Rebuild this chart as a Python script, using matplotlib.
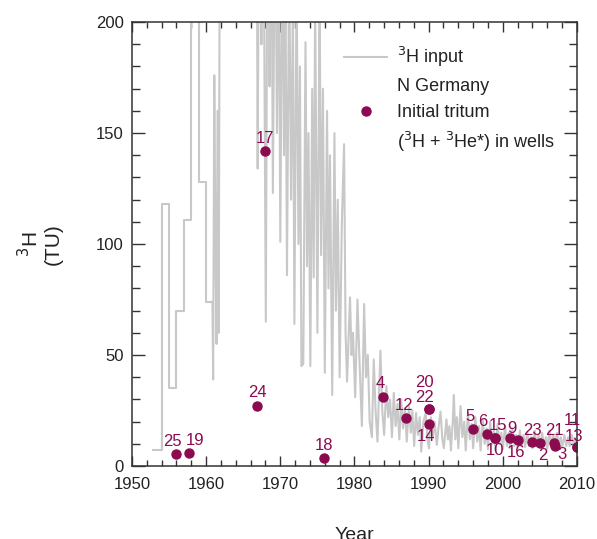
import numpy as np
import matplotlib
matplotlib.use('Agg')
import matplotlib.pyplot as plt
from matplotlib.lines import Line2D

plt.rcParams['font.family'] = ['Liberation Sans', 'DejaVu Sans']

# 3H input N Germany, annual steps before 1961
step_year = [1952.9, 1954, 1955, 1956, 1957, 1958, 1959, 1960, 1960.85]
step_tu = [7, 118, 35, 70, 111, 250, 128, 74, 74]

# 3H input N Germany, seasonal values after 1961
input_year = [1960.85, 1960.95, 1961.1, 1961.25, 1961.4, 1961.55, 1961.7, 1961.9,
              1962.3, 1962.7, 1963.0, 1963.4, 1963.8, 1964.1, 1964.5, 1964.9,
              1965.2, 1965.5, 1965.9, 1966.2, 1966.5, 1966.8, 1966.95,
              1967.2, 1967.45, 1967.7, 1968.05, 1968.3, 1968.55, 1968.8,
              1969.0, 1969.3, 1969.55, 1969.8, 1970.0, 1970.3, 1970.5, 1970.7,
              1970.9, 1971.2, 1971.45, 1971.7, 1971.9, 1972.2, 1972.45, 1972.65,
              1972.85, 1973.1, 1973.4, 1973.6, 1973.8, 1974.05, 1974.3, 1974.5,
              1974.7, 1975.0, 1975.3, 1975.5, 1975.75, 1976.0, 1976.3, 1976.5,
              1976.7, 1977.0, 1977.3, 1977.5, 1977.75, 1978.0, 1978.3, 1978.6,
              1978.8, 1979.0, 1979.4, 1979.6, 1979.8,
              1980.1, 1980.4, 1980.7, 1981.0, 1981.3, 1981.55, 1981.8, 1982.05,
              1982.35, 1982.6, 1982.85, 1983.1, 1983.5, 1983.75,
              1984.0, 1984.3, 1984.55, 1984.8, 1985.05, 1985.3, 1985.55, 1985.8,
              1986.05, 1986.3, 1986.55, 1986.8, 1987.05, 1987.35, 1987.6, 1987.8,
              1988.05, 1988.3, 1988.55, 1988.8, 1989.0, 1989.3, 1989.6, 1989.85,
              1990.05, 1990.3, 1990.55, 1990.8, 1991.1, 1991.35, 1991.6, 1991.85,
              1992.05, 1992.4, 1992.6, 1992.8, 1993.0, 1993.25, 1993.4, 1993.6, 1993.8,
              1994.0, 1994.3, 1994.55, 1994.8, 1995.0, 1995.3, 1995.55, 1995.8,
              1996.0, 1996.3, 1996.55, 1996.8, 1997.0, 1997.3, 1997.55, 1997.8,
              1998.0, 1998.3, 1998.55, 1998.8, 1999.0, 1999.3, 1999.55, 1999.8,
              2000.0, 2000.3, 2000.55, 2000.8, 2001.0, 2001.3, 2001.55, 2001.8,
              2002.0, 2002.3, 2002.55, 2002.8, 2003.0, 2003.3, 2003.55, 2003.8,
              2004.0, 2004.3, 2004.55, 2004.8, 2005.0, 2005.3, 2005.55, 2005.8,
              2006.0, 2006.3, 2006.55, 2006.8, 2007.0, 2007.3, 2007.55, 2007.8,
              2008.0, 2008.3, 2008.55, 2008.8, 2009.0, 2009.3, 2009.55, 2009.8,
              2010.0]
input_tu = [74, 39, 176, 100, 55, 160, 60, 330,
            900, 600, 400, 3000, 900, 500, 1200, 400,
            350, 600, 300, 260, 450, 280, 134,
            320, 190, 280, 65, 290, 171, 260,
            123, 270, 150, 240, 101, 250, 140, 220,
            86, 230, 120, 210, 64, 220, 100, 180,
            45, 46, 191, 90, 150, 45, 170, 85,
            210, 60, 215, 95, 170, 42, 160, 80,
            140, 32, 150, 70, 120, 40, 110, 145,
            60, 38, 76, 50, 60,
            31, 75, 45, 18, 73, 40, 50, 20,
            13, 48, 25, 11, 52, 25,
            14, 36, 22, 30, 13, 33, 18, 28,
            12, 30, 17, 26, 11, 27, 15, 25,
            9, 24, 14, 22, 6.5, 20, 24, 12,
            8, 22, 13, 20, 9.5, 18, 24.5, 12,
            8, 21, 12, 18, 7, 20, 32, 12, 22,
            8, 27, 13, 20, 7, 24, 12, 19,
            8, 22, 11, 18, 7, 21, 10, 17,
            7.5, 20, 10, 16, 7, 19, 10, 15,
            7.5, 18, 9, 15, 8, 17, 9, 14,
            7.5, 16, 9, 14, 8.5, 15, 9, 13,
            8, 16, 9, 14, 8.5, 15, 9, 13,
            8, 16, 9, 14, 9, 15, 9, 13,
            8.5, 14, 9, 13, 9, 14, 9.5, 12,
            9]

# initial tritium (3H + 3He*) in wells
well_id = ['25', '19', '24', '17', '18', '4', '12', '20', '22', '14', '5', '6',
           '15', '10', '9', '16', '23', '2', '21', '3', '11', '13']
well_year = [1956.0, 1957.7, 1966.9, 1967.9, 1975.9, 1983.9, 1986.9, 1990.0, 1990.0,
             1990.0, 1996.0, 1997.9, 1999.0, 1999.0, 2001.0, 2002.0, 2004.0, 2005.0,
             2006.9, 2007.0, 2010.0, 2010.0]
well_tu = [5.3, 6.0, 27.0, 141.9, 3.7, 30.9, 21.8, 25.8, 25.8, 18.8, 16.5, 14.4,
           12.7, 12.7, 12.6, 11.7, 10.9, 10.5, 10.2, 9.0, 8.4, 8.4]
# label offsets (points)
label_dx = [-3, 4, 0, 0, 0, -2, -1, -3, -3, -2, -2, -3, 2, 0, 1, -1, 0, 2, 0, 5, -3, -2]
label_dy = [9, 9, 10, 9, 9, 10, 9, 19, 8, -9, 9, 9, 9, -9, 7, -9, 8, -9, 9, -6, 19, 8]

purple = '#8c0a50'
grey = '#c8c8c8'

fig = plt.figure(figsize=(5.97, 5.39), dpi=100)
ax = fig.add_axes([0.221, 0.1354, 0.7455, 0.8236])

ax.step(step_year, step_tu, where='post', color=grey, lw=1.5)
ax.plot(input_year, input_tu, color=grey, lw=1.5)
ax.plot(well_year, well_tu, 'o', color=purple, ms=6.5, mec=purple)

for i in range(len(well_id)):
    ax.annotate(well_id[i], (well_year[i], well_tu[i]), xytext=(label_dx[i], label_dy[i]),
                textcoords='offset points', ha='center', va='center',
                color=purple, fontsize=12)

ax.set_xlim(1950, 2010)
ax.set_ylim(0, 200)
ax.set_xticks(np.arange(1950, 2011, 10))
ax.set_xticks(np.arange(1950, 2011, 2), minor=True)
ax.set_yticks(np.arange(0, 201, 50))
ax.set_yticks(np.arange(0, 201, 10), minor=True)
ax.tick_params(axis='both', which='both', direction='in', top=True, right=True,
               labelsize=12, color='#333333', labelcolor='#222222', width=1)
ax.tick_params(axis='x', which='major', length=7)
ax.tick_params(axis='x', which='minor', length=4.3)
ax.tick_params(axis='y', which='major', length=9.4)
ax.tick_params(axis='y', which='minor', length=5.8)
ax.tick_params(axis='x', pad=8)
ax.tick_params(axis='y', pad=6)
for s in ax.spines.values():
    s.set_linewidth(1.1)
    s.set_color('#333333')

ax.set_xlabel('Year', fontsize=14, labelpad=25, color='#222222')
ax.set_ylabel('$^3$H\n(TU)', fontsize=15, labelpad=24, color='#222222', linespacing=1.1)

handles = [Line2D([], [], color=grey, lw=1.5),
           Line2D([], [], ls='none'),
           Line2D([], [], ls='none', marker='o', color=purple, ms=6.5),
           Line2D([], [], ls='none')]
labels = ['$^3$H input', 'N Germany', 'Initial tritum', '($^3$H + $^3$He*) in wells']
ax.legend(handles, labels, loc='upper left', bbox_to_anchor=(0.46, 0.965), frameon=False,
          fontsize=13, handlelength=2.4, handletextpad=0.55, labelspacing=0.5,
          borderaxespad=0, labelcolor='#222222')

fig.savefig('out.png', dpi=100)
